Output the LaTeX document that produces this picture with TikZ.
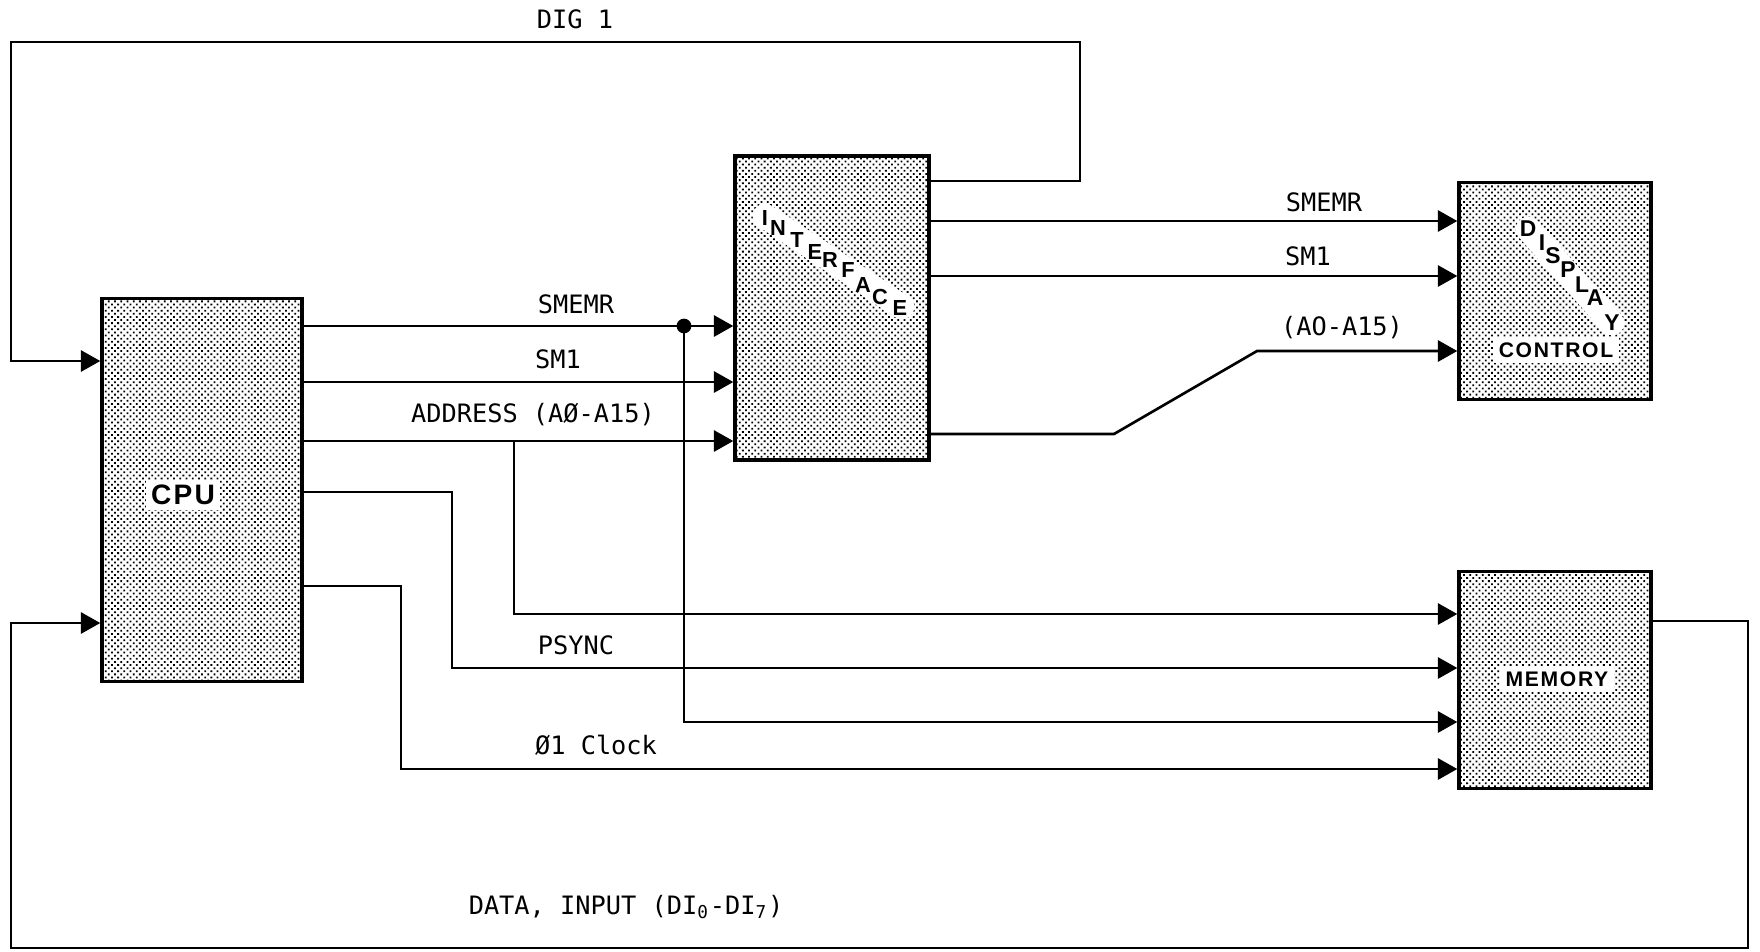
\documentclass[tikz,border=0pt]{standalone}
\usepackage{fontspec}
\setmonofont{DejaVu Sans Mono}
\newfontfamily\boxfont[LetterSpace=8]{Liberation Sans}
\usetikzlibrary{arrows.meta,patterns.meta}

\begin{document}
\begin{tikzpicture}[x=0.01cm,y=-0.01cm,
	unit/.style={ draw, line width=0.95pt, pattern={Dots[distance=1.25pt,radius=0.36pt,angle=45]}, inner sep=0pt },
	sig/.style={ line width=0.75pt, -{Triangle[length=5.5pt,width=6pt]} },
	lbl/.style={ font=\ttfamily\fontsize{7.2}{8}\selectfont, inner sep=0pt },
	title/.style={ font=\boxfont\bfseries\fontsize{6}{7}\selectfont, fill=white, inner sep=1.5pt },
	stair/.style={ font=\boxfont\bfseries\fontsize{6.2}{7}\selectfont, inner sep=0.5pt },
	band/.style={ white, line width=7pt, line cap=round },
	dot/.style={ circle, fill, inner sep=0pt, minimum size=4.2pt }
]
\useasboundingbox (0,0) rectangle (1760,951);

\node at (202,490) (cpu) [unit, minimum width=2cm, minimum height=3.83cm] {};
\node at (832,308) (intf) [unit, minimum width=1.94cm, minimum height=3.04cm] {};
\node at (1555,291) (disp) [unit, minimum width=1.92cm, minimum height=2.17cm] {};
\node at (1555,680) (mem) [unit, minimum width=1.92cm, minimum height=2.17cm] {};

\node at (183,495) (cpu-t) [title, font=\boxfont\bfseries\fontsize{8}{9}\selectfont] {CPU};
\node at (1557,679) (mem-t) [title] {MEMORY};
\node at (1556,350) (ctl-t) [title] {CONTROL};
\draw[band] (765,216) -- (902,307);
\foreach \ch/\x/\y [count=\i] in {I/765/218, N/778/228, T/797/240, E/815/252, R/830/260, F/848/270, A/863/285, C/880/297, E/900/308}
	\node at (\x,\y) (if-\i) [stair] {\ch};
\draw[band] (1528,229) -- (1612,323);
\foreach \ch/\x/\y [count=\i] in {D/1528/229, I/1542/243, S/1553/256, P/1568/270, L/1582/285, A/1595/298, Y/1612/323}
	\node at (\x,\y) (dp-\i) [stair, font=\boxfont\bfseries\fontsize{6.5}{7}\selectfont] {\ch};

\coordinate (tap) at (684,326);
\coordinate (adr) at (514,441);

\draw[sig] (cpu.east |- tap) -- (intf.west |- tap);
\draw[sig] (cpu.east |- 0,382) -- (intf.west |- 0,382);
\draw[sig] (cpu.east |- adr) -- (intf.west |- adr);
\node at (tap) (jdot) [dot] {};
\draw[sig] (adr) |- (mem.west |- 0,614);
\draw[sig] (cpu.east |- 0,492) -| (452,668) -- (mem.west |- 0,668);
\draw[sig] (jdot.center) |- (mem.west |- 0,722);
\draw[sig] (cpu.east |- 0,586) -| (401,769) -- (mem.west |- 0,769);

\draw[sig] (intf.east |- 0,221) -- (disp.west |- 0,221);
\draw[sig] (intf.east |- 0,276) -- (disp.west |- 0,276);
\draw[sig] (intf.east |- 0,434) -- (1114,434) -- (1257,351) -- (disp.west |- 0,351);

\draw[sig] (intf.east |- 0,181) -- (1080,181) -- (1080,42) -- (11,42) -- (11,361) -- (cpu.west |- 0,361);
\draw[sig] (mem.east |- 0,621) -- (1748,621) -- (1748,948) -- (11,948) -- (11,623) -- (cpu.west |- 0,623);

\node at (575,19) (dig) [lbl] {DIG 1};
\node at (576,304) (l-smemr) [lbl] {SMEMR};
\node at (558,359) (l-sm1) [lbl] {SM1};
\node at (533,415) (l-addr) [lbl] {ADDRESS (AØ-A15)};
\node at (576,645) (l-psync) [lbl] {PSYNC};
\node at (596,745) (l-clk) [lbl] {Ø1 Clock};
\node at (1324,202) (r-smemr) [lbl] {SMEMR};
\node at (1308,256) (r-sm1) [lbl] {SM1};
\node at (1342,328) (r-addr) [lbl] {(AO-A15)};
\node at (626,907) (l-data) [lbl] {DATA, INPUT (DI\textsubscript{0}-DI\textsubscript{7})};

\end{tikzpicture}
\end{document}
